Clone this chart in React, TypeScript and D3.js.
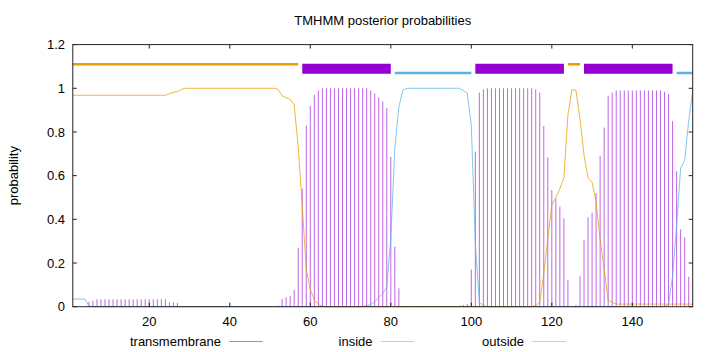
import React from 'react';
import * as d3 from 'd3';

// posterior probabilities per residue (1..155)
const transmembrane = [
  0, 0, 0, 0, 0.023, 0.027, 0.034, 0.034, 0.034, 0.034,
  0.034, 0.034, 0.034, 0.034, 0.034, 0.034, 0.034, 0.034, 0.034, 0.034,
  0.034, 0.034, 0.034, 0.034, 0.02, 0.02, 0.017, 0, 0, 0,
  0, 0, 0, 0, 0, 0, 0, 0, 0, 0,
  0, 0, 0, 0, 0, 0, 0, 0, 0, 0,
  0, 0.005, 0.035, 0.043, 0.049, 0.076, 0.27, 0.54, 0.83, 0.92,
  0.97, 0.99, 1, 1, 1, 1, 1, 1, 1, 1,
  1, 1, 1, 1, 0.99, 0.977, 0.958, 0.94, 0.91, 0.686,
  0.275, 0.084, 0, 0, 0, 0, 0, 0, 0, 0,
  0, 0, 0, 0, 0.003, 0.004, 0.006, 0.008, 0.012, 0.17,
  0.71, 0.98, 0.995, 1, 1, 1, 1, 1, 1, 1,
  1, 1, 1, 1, 1, 0.995, 0.98, 0.827, 0.684, 0.534,
  0.496, 0.458, 0.405, 0.122, 0, 0.008, 0.14, 0.305, 0.41, 0.43,
  0.52, 0.69, 0.82, 0.966, 0.98, 0.99, 0.99, 0.99, 0.99, 0.99,
  0.99, 0.99, 0.99, 0.99, 0.99, 0.99, 0.99, 0.984, 0.973, 0.85,
  0.62, 0.354, 0.318, 0.137, 0,
];

const inside = [
  0.035, 0.035, 0.035, 0.035, 0.003, 0, 0, 0, 0, 0,
  0, 0, 0, 0, 0, 0, 0, 0, 0, 0,
  0, 0, 0, 0, 0, 0, 0, 0, 0, 0,
  0, 0, 0, 0, 0, 0, 0, 0, 0, 0,
  0, 0, 0, 0, 0, 0, 0, 0, 0, 0,
  0, 0, 0, 0, 0, 0, 0, 0, 0, 0,
  0, 0, 0, 0, 0, 0, 0, 0, 0, 0,
  0, 0, 0.002, 0.005, 0.01, 0.023, 0.042, 0.06, 0.09, 0.314,
  0.725, 0.916, 0.99, 1, 1, 1, 1, 1, 1, 1,
  1, 1, 1, 1, 1, 1, 1, 0.99, 0.976, 0.83,
  0.29, 0.02, 0.005, 0, 0, 0, 0, 0, 0, 0,
  0, 0, 0, 0, 0, 0, 0, 0, 0, 0,
  0, 0, 0, 0, 0, 0, 0, 0, 0, 0,
  0, 0, 0, 0, 0, 0, 0, 0, 0, 0,
  0, 0, 0, 0, 0, 0, 0, 0.003, 0.012, 0.14,
  0.37, 0.635, 0.67, 0.85, 0.99,
];

const outside = [
  0.968, 0.968, 0.968, 0.968, 0.968, 0.968, 0.968, 0.968, 0.968, 0.968,
  0.968, 0.968, 0.968, 0.968, 0.968, 0.968, 0.968, 0.968, 0.968, 0.968,
  0.968, 0.968, 0.968, 0.968, 0.975, 0.982, 0.984, 0.995, 1, 1,
  1, 1, 1, 1, 1, 1, 1, 1, 1, 1,
  1, 1, 1, 1, 1, 1, 1, 1, 1, 1,
  1, 0.995, 0.965, 0.957, 0.95, 0.924, 0.73, 0.46, 0.17, 0.08,
  0.03, 0.01, 0.002, 0, 0, 0, 0, 0, 0, 0,
  0, 0, 0, 0, 0, 0, 0, 0, 0, 0,
  0, 0, 0, 0, 0, 0, 0, 0, 0, 0,
  0, 0, 0, 0, 0, 0, 0, 0, 0, 0,
  0, 0, 0, 0, 0, 0, 0, 0, 0, 0,
  0, 0, 0, 0, 0, 0.005, 0.02, 0.15, 0.31, 0.465,
  0.5, 0.54, 0.59, 0.878, 0.995, 0.99, 0.86, 0.695, 0.59, 0.57,
  0.48, 0.31, 0.17, 0.03, 0.02, 0.012, 0.012, 0.012, 0.012, 0.012,
  0.012, 0.012, 0.012, 0.012, 0.012, 0.012, 0.012, 0.012, 0.012, 0.012,
  0.012, 0.012, 0.012, 0.012, 0.012,
];

// predicted topology along the top
const segType = ['outside', 'TMhelix', 'inside', 'TMhelix', 'outside', 'TMhelix', 'inside'];
const segStart = [1, 58, 81, 101, 124, 128, 151];
const segEnd = [57, 80, 100, 123, 127, 150, 155];

const xTicks = [20, 40, 60, 80, 100, 120, 140];
const yTicks = [0, 0.2, 0.4, 0.6, 0.8, 1, 1.2];

const W = 720;
const H = 352;
const FONT = "'Liberation Sans', Arial, sans-serif";

const PURPLE = '#9400d3';
const BLUE = '#56b4e9';
const ORANGE = '#e69f00';

export default function App() {
  const x = d3.scaleLinear().domain([1, 155]).range([72.8, 692.7]);
  const y = d3.scaleLinear().domain([0, 1.2]).range([306.7, 44.6]);

  const pos = transmembrane.map((_, i) => i + 1);
  const line = d3
    .line<number>()
    .x((_, i) => x(pos[i]))
    .y(d => y(d));

  const segStyle: Record<string, { y: number; color: string; w: number }> = {
    outside: { y: 1.11, color: ORANGE, w: 2.5 },
    TMhelix: { y: 1.09, color: PURPLE, w: 10 },
    inside: { y: 1.07, color: BLUE, w: 2.5 },
  };

  const [x0, x1] = x.range();
  const [y0, y1] = y.range();

  return (
    <svg
      width={W}
      height={H}
      style={{ position: 'absolute', left: 0, top: 0, background: '#fff' }}
      fontFamily={FONT}
      fontSize={13}
    >
      <rect width={W} height={H} fill="#fff" />

      {/* title + axis label */}
      <text x={(x0 + x1) / 2} y={25} textAnchor="middle">
        TMHMM posterior probabilities
      </text>
      <text transform={`translate(18,${(y0 + y1) / 2}) rotate(-90)`} textAnchor="middle">
        probability
      </text>

      {/* transmembrane impulses */}
      {transmembrane.map((v, i) =>
        v > 0 ? (
          <line
            key={'tm' + i}
            x1={x(pos[i])}
            x2={x(pos[i])}
            y1={y(0)}
            y2={y(v)}
            stroke={PURPLE}
            strokeOpacity={0.6}
            strokeWidth={1}
          />
        ) : null
      )}

      {/* inside / outside curves */}
      <path d={line(inside) || ''} fill="none" stroke={BLUE} strokeOpacity={0.75} strokeWidth={1} />
      <path d={line(outside) || ''} fill="none" stroke={ORANGE} strokeOpacity={0.75} strokeWidth={1} />

      {/* topology bars */}
      {segType.map((t, i) => (
        <line
          key={'seg' + i}
          x1={x(segStart[i])}
          x2={x(segEnd[i])}
          y1={y(segStyle[t].y)}
          y2={y(segStyle[t].y)}
          stroke={segStyle[t].color}
          strokeWidth={segStyle[t].w}
        />
      ))}

      {/* border */}
      <rect x={x0} y={y1} width={x1 - x0} height={y0 - y1} fill="none" stroke="#222" strokeWidth={1} />

      {/* ticks */}
      {xTicks.map(t => (
        <g key={'xt' + t}>
          <line x1={x(t)} x2={x(t)} y1={y0} y2={y0 - 4} stroke="#222" />
          <line x1={x(t)} x2={x(t)} y1={y1} y2={y1 + 4} stroke="#222" />
          <text x={x(t)} y={326} textAnchor="middle">
            {t}
          </text>
        </g>
      ))}
      {yTicks.map(t => (
        <g key={'yt' + t}>
          <line x1={x0} x2={x0 + 4} y1={y(t)} y2={y(t)} stroke="#222" />
          <line x1={x1} x2={x1 - 4} y1={y(t)} y2={y(t)} stroke="#222" />
          <text x={65} y={y(t)} dy="0.35em" textAnchor="end">
            {t}
          </text>
        </g>
      ))}

      {/* legend */}
      <g>
        <text x={221} y={346} textAnchor="end">transmembrane</text>
        <line x1={229.3} x2={262.7} y1={341.5} y2={341.5} stroke={PURPLE} strokeOpacity={0.55} />
        <text x={372.5} y={346} textAnchor="end">inside</text>
        <line x1={380.7} x2={414} y1={341.5} y2={341.5} stroke={BLUE} strokeOpacity={0.55} />
        <text x={524} y={346} textAnchor="end">outside</text>
        <line x1={532.3} x2={566} y1={341.5} y2={341.5} stroke={ORANGE} strokeOpacity={0.55} />
      </g>
    </svg>
  );
}
